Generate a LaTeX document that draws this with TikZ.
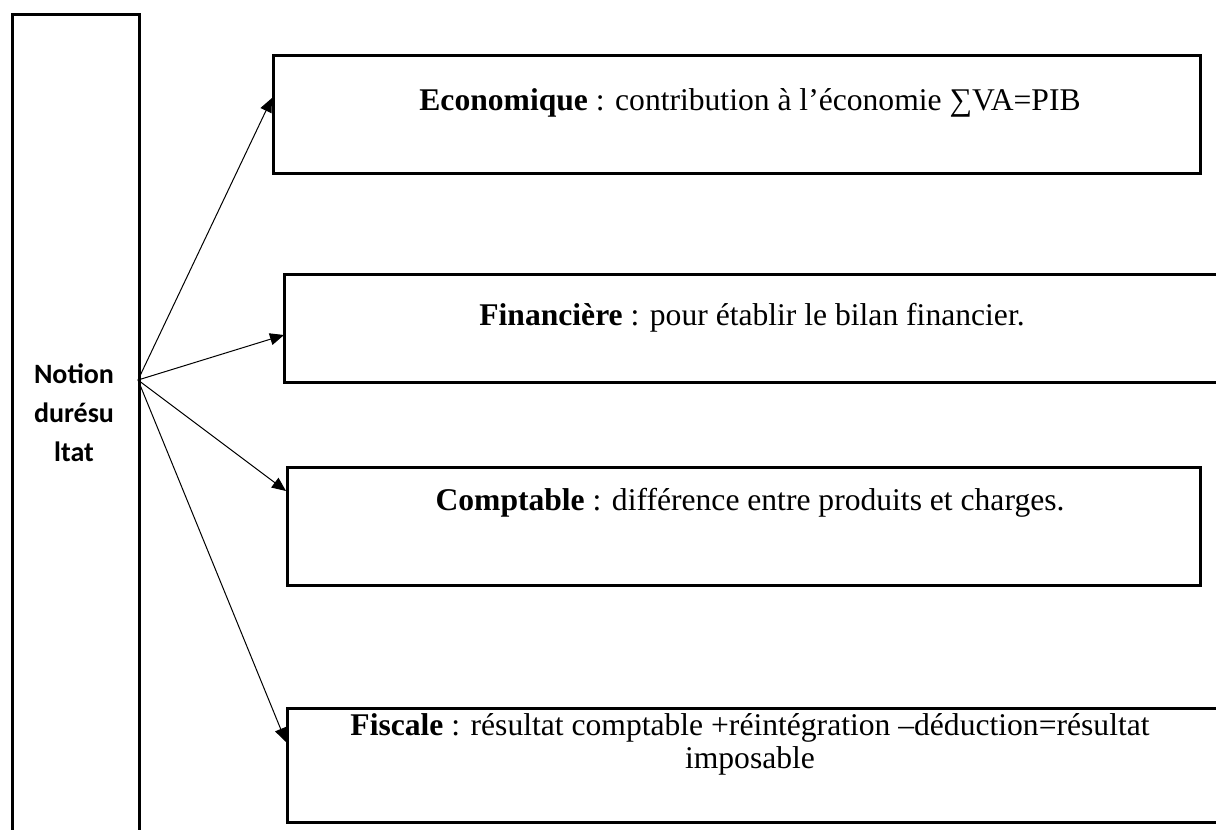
\documentclass[tikz,border=0pt]{standalone}
\usepackage{fontspec}
\setmainfont{Liberation Serif}
\newfontfamily\calibrifont{Carlito}
\usetikzlibrary{arrows.meta}
\begin{document}
\begin{tikzpicture}[x=1pt,y=-1pt,
  frame/.style={draw=black,line width=2.6pt,rectangle,inner sep=0pt},
  link/.style={draw=black,line width=1pt,-{Triangle[length=14pt,width=12pt]}},
  desc/.style={anchor=base,inner sep=0pt,align=center,font=\fontsize{31.6}{33}\selectfont},
  title/.style={align=center,inner sep=0pt,anchor=base,font=\calibrifont\bfseries\fontsize{28}{39}\selectfont}]
\useasboundingbox (0,0) rectangle (1216,830);
\clip (0,0) rectangle (1216,830);

% left column holding the main notion
\node[frame,minimum width=127pt,minimum height=850pt,anchor=north west] (notion) at (11,13) {};
\node[title] (notiontxt) at (74,461) {Notion\\durésu\\ltat};

% the four readings of the result
\node[frame,minimum width=927pt,minimum height=118pt,anchor=north west] (eco) at (272,54) {};
\node[frame,minimum width=1000pt,minimum height=108pt,anchor=north west] (fin) at (283,273) {};
\node[frame,minimum width=913pt,minimum height=118pt,anchor=north west] (cpt) at (286,466) {};
\node[frame,minimum width=1000pt,minimum height=114pt,anchor=north west] (fis) at (286,707) {};

\node[desc] (ecotxt) at (750,110) {\textbf{Economique} : contribution à l’économie ∑VA=PIB};
\node[desc] (fintxt) at (752,325) {\textbf{Financière} : pour établir le bilan financier.};
\node[desc] (cpttxt) at (750,510) {\textbf{Comptable} : différence entre produits et charges.};
\node[desc] (fistxt) at (750,768) {\textbf{Fiscale} : résultat comptable +réintégration –déduction=résultat\\imposable};

% arrows fan out from one point on the column's right side
\coordinate (src) at (138,380);
\coordinate (ecoin) at (272,98);
\coordinate (finin) at (284,335);
\coordinate (cptin) at (286,491);
\coordinate (fisin) at (286,742);
\draw[link] (src) -- (ecoin);
\draw[link] (src) -- (finin);
\draw[link] (src) -- (cptin);
\draw[link] (src) -- (fisin);
\end{tikzpicture}
\end{document}
